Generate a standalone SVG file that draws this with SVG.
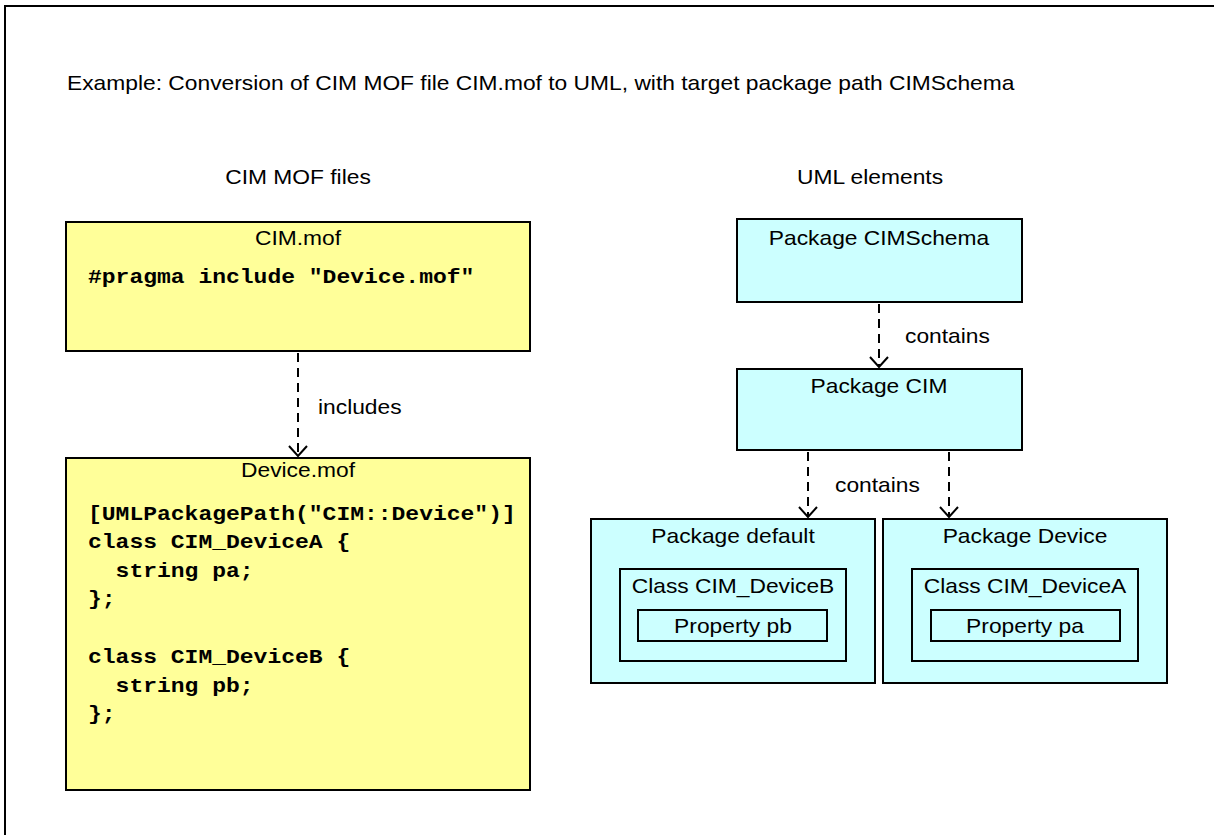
<svg xmlns="http://www.w3.org/2000/svg" width="1214" height="835" viewBox="0 0 1214 835">
<style>
.t{font-family:"Liberation Sans",Arial,sans-serif;font-size:20px;fill:#000}
.m{font-family:"Liberation Mono","Courier New",monospace;font-size:20px;font-weight:bold;fill:#000}
.y{fill:#FFFF99;stroke:#000;stroke-width:2}
.c{fill:#CCFFFF;stroke:#000;stroke-width:2}
.d{fill:none;stroke:#000;stroke-width:2;stroke-dasharray:9,6}
.h{fill:none;stroke:#000;stroke-width:2}
</style>
<rect x="0" y="0" width="1214" height="835" fill="#fff"/>
<rect x="5" y="6" width="1230" height="850" fill="none" stroke="#000" stroke-width="2"/>
<text class="t" transform="translate(67,90) scale(1.14,1)">Example: Conversion of CIM MOF file CIM.mof to UML, with target package path CIMSchema</text>
<text class="t" text-anchor="middle" transform="translate(298,184) scale(1.14,1)">CIM MOF files</text>
<text class="t" text-anchor="middle" transform="translate(870,184) scale(1.14,1)">UML elements</text>
<g id="cim-mof">
<rect class="y" x="66" y="222" width="464" height="129"/>
<text class="t" text-anchor="middle" transform="translate(298,245) scale(1.14,1)">CIM.mof</text>
<text class="m" xml:space="preserve" transform="translate(88,283) scale(1.15,1)">#pragma include "Device.mof"</text>
</g>
<g id="device-mof">
<rect class="y" x="66" y="458" width="464" height="332"/>
<text class="t" text-anchor="middle" transform="translate(298,477) scale(1.14,1)">Device.mof</text>
<text class="m" xml:space="preserve" transform="translate(88,520) scale(1.15,1)">[UMLPackagePath("CIM::Device")]</text>
<text class="m" xml:space="preserve" transform="translate(88,548) scale(1.15,1)">class CIM_DeviceA {</text>
<text class="m" xml:space="preserve" transform="translate(88,577) scale(1.15,1)">  string pa;</text>
<text class="m" xml:space="preserve" transform="translate(88,605) scale(1.15,1)">};</text>
<text class="m" xml:space="preserve" transform="translate(88,663) scale(1.15,1)">class CIM_DeviceB {</text>
<text class="m" xml:space="preserve" transform="translate(88,692) scale(1.15,1)">  string pb;</text>
<text class="m" xml:space="preserve" transform="translate(88,720) scale(1.15,1)">};</text>
</g>
<g id="pkg-cimschema">
<rect class="c" x="737" y="219" width="285" height="83"/>
<text class="t" text-anchor="middle" transform="translate(879,245) scale(1.14,1)">Package CIMSchema</text>
</g>
<g id="pkg-cim">
<rect class="c" x="737" y="369" width="285" height="81"/>
<text class="t" text-anchor="middle" transform="translate(879,393) scale(1.14,1)">Package CIM</text>
</g>
<g id="pkg-default">
<rect class="c" x="591" y="519" width="284" height="164"/>
<text class="t" text-anchor="middle" transform="translate(733,543) scale(1.14,1)">Package default</text>
<rect class="c" x="620" y="569" width="226" height="92"/>
<text class="t" text-anchor="middle" transform="translate(733,593) scale(1.14,1)">Class CIM_DeviceB</text>
<rect class="c" x="638" y="610" width="189" height="31"/>
<text class="t" text-anchor="middle" transform="translate(733,633) scale(1.14,1)">Property pb</text>
</g>
<g id="pkg-device">
<rect class="c" x="883" y="519" width="284" height="164"/>
<text class="t" text-anchor="middle" transform="translate(1025,543) scale(1.14,1)">Package Device</text>
<rect class="c" x="912" y="569" width="226" height="92"/>
<text class="t" text-anchor="middle" transform="translate(1025,593) scale(1.14,1)">Class CIM_DeviceA</text>
<rect class="c" x="931" y="610" width="189" height="31"/>
<text class="t" text-anchor="middle" transform="translate(1025,633) scale(1.14,1)">Property pa</text>
</g>
<g id="connectors">
<line class="d" x1="298" y1="353" x2="298" y2="456"/>
<polyline class="h" points="289,446 298,456 307,446"/>
<text class="t" transform="translate(318,414) scale(1.14,1)">includes</text>
<line class="d" x1="879" y1="304" x2="879" y2="367"/>
<polyline class="h" points="870,357 879,367 888,357"/>
<text class="t" transform="translate(905,343) scale(1.14,1)">contains</text>
<line class="d" x1="808" y1="452" x2="808" y2="517"/>
<polyline class="h" points="799,507 808,517 817,507"/>
<line class="d" x1="949" y1="452" x2="949" y2="517"/>
<polyline class="h" points="940,507 949,517 958,507"/>
<text class="t" transform="translate(835,492) scale(1.14,1)">contains</text>
</g>
</svg>
